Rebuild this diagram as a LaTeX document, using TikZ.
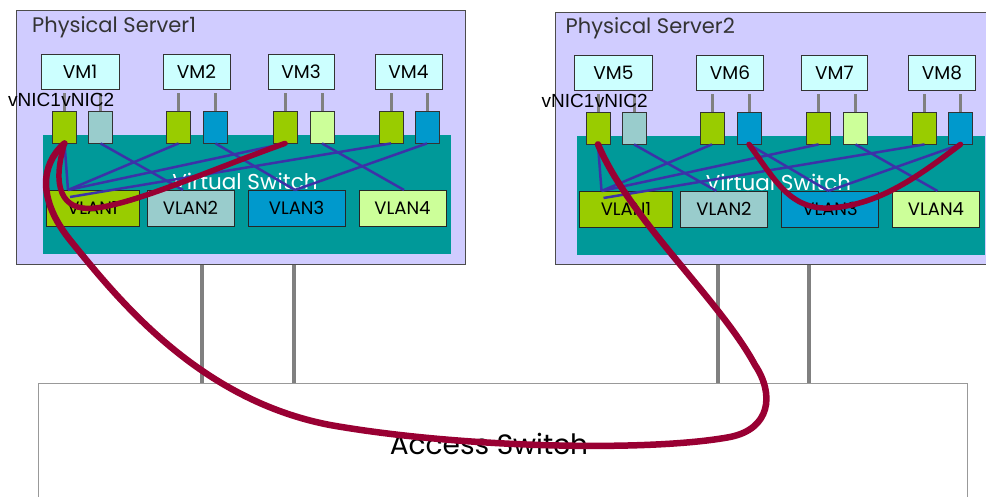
\documentclass[tikz,border=0pt]{standalone}
\usepackage{fontspec}
\setmainfont{Poppins}
\newfontfamily\labelfont{Liberation Sans}
\definecolor{serverbg}{HTML}{D0CCFF}
\definecolor{switchteal}{HTML}{009999}
\definecolor{vmfill}{HTML}{CCFFFF}
\definecolor{vgreen}{HTML}{99CC00}
\definecolor{vgrey}{HTML}{99CCCC}
\definecolor{vblue}{HTML}{0099CC}
\definecolor{vlime}{HTML}{CCFF99}
\definecolor{trunk}{HTML}{3C32A8}
\definecolor{pathred}{HTML}{990033}
\definecolor{stubgrey}{HTML}{808080}
\tikzset{
  server/.style={draw=black!70, fill=serverbg, line width=1pt, inner sep=0pt},
  vswitch/.style={fill=switchteal, inner sep=0pt},
  swlabel/.style={anchor=base, text=white, font=\fontsize{21.5}{21.5}\selectfont},
  title/.style={anchor=base west, text=black!80, font=\fontsize{21}{21}\selectfont, inner sep=0pt},
  vmbox/.style={draw=black!80, fill=vmfill, line width=0.8pt, minimum height=35pt,
    inner sep=0pt, font=\fontsize{18.5}{18.5}\selectfont},
  nic/.style={draw=black!80, line width=0.8pt, minimum width=24pt, minimum height=32pt, inner sep=0pt},
  vlan/.style={draw=black!85, line width=0.8pt, minimum height=36pt, inner sep=0pt,
    font=\fontsize{18}{18}\selectfont},
  niclabel/.style={anchor=base west, inner sep=0pt, font=\labelfont\fontsize{19}{19}\selectfont},
  stubline/.style={stubgrey, line width=3pt},
  uplink/.style={stubgrey, line width=4pt},
  vlanlink/.style={trunk, line width=2.5pt},
  flow/.style={pathred, line width=5.5pt, line cap=round},
  longflow/.style={flow, line width=6.5pt},
}
% one host: #1 name prefix, #2/#3 offset, #4-#7 VM names, #8 title
\newcommand\vhost[8]{%
\begin{scope}[shift={(#2,#3)}]
  \node[title] (#1title) at (32,33) {#8};
  \node[vswitch, anchor=north west, minimum width=408pt, minimum height=119pt] (#1sw) at (43,135) {};
  \node[swlabel] (#1swlabel) at (245,190) {Virtual Switch};
  \node[vmbox, minimum width=78pt] (#1vm1) at (80,71.5) {#4};
  \node[vmbox, minimum width=67pt] (#1vm2) at (196.5,71.5) {#5};
  \node[vmbox, minimum width=66pt] (#1vm3) at (301,71.5) {#6};
  \node[vmbox, minimum width=67pt] (#1vm4) at (408.5,71.5) {#7};
  \node[nic, fill=vgreen] (#1na1) at (64.5,127) {};
  \node[nic, fill=vgrey]  (#1nb1) at (100.5,127) {};
  \node[nic, fill=vgreen] (#1na2) at (178.5,127) {};
  \node[nic, fill=vblue]  (#1nb2) at (215.5,127) {};
  \node[nic, fill=vgreen] (#1na3) at (285,127) {};
  \node[nic, fill=vlime]  (#1nb3) at (322,127) {};
  \node[nic, fill=vgreen] (#1na4) at (391,127) {};
  \node[nic, fill=vblue]  (#1nb4) at (427,127) {};
  \foreach \k in {1,...,4} {
    \draw[stubline] ([yshift=-4pt]#1vm\k.south -| #1na\k) -- (#1na\k.north);
    \draw[stubline] ([yshift=-4pt]#1vm\k.south -| #1nb\k) -- (#1nb\k.north);
  }
  \node[vlan, fill=vgreen, minimum width=93pt] (#1vl1) at (92.5,208) {VLAN1};
  \node[vlan, fill=vgrey,  minimum width=87pt] (#1vl2) at (190.5,208) {VLAN2};
  \node[vlan, fill=vblue,  minimum width=97pt] (#1vl3) at (296.5,208) {VLAN3};
  \node[vlan, fill=vlime,  minimum width=87pt] (#1vl4) at (402.5,208) {VLAN4};
  % VLAN membership of every vNIC
  \coordinate (#1j1) at (68,190);
  \coordinate (#1j1b) at (70,197);
  \coordinate (#1j2) at (183,190);
  \coordinate (#1j3) at (295,190);
  \coordinate (#1j4) at (404,190);
  \draw[vlanlink] (#1na1.south) -- (#1j1);
  \draw[vlanlink] (#1na2.south) -- (#1j1);
  \draw[vlanlink] (#1na3.south) -- (#1j1);
  \draw[vlanlink] (#1na4.south) -- (#1j1b);
  \draw[vlanlink] (#1nb1.south) -- (#1j2);
  \draw[vlanlink] (#1nb2.south) -- (#1j3);
  \draw[vlanlink] (#1nb4.south) -- (#1j3);
  \draw[vlanlink] (#1nb3.south) -- (#1j4);
  \node[niclabel] (#1lbla) at (8,107) {vNIC1};
  \node[niclabel] (#1lblb) at (#1lbla.base east) {vNIC2};
\end{scope}}

\begin{document}
\begin{tikzpicture}[x=1pt, y=-1pt]
  \useasboundingbox[fill=white] (0,0) rectangle (986,497);
  \node[server, anchor=north west, minimum width=449pt, minimum height=254pt] (s1box) at (16,10) {};
  \node[server, anchor=north west, minimum width=460pt, minimum height=252pt] (s2box) at (555,12) {};
  \node[draw=black!40, fill=white, line width=1pt, anchor=north west, minimum width=929pt,
        minimum height=130pt, inner sep=0pt] (access) at (38,383) {};
  \node[font=\fontsize{28}{28}\selectfont, anchor=base] (accesslabel) at (489,454) {Access Switch};
  % uplinks from the hosts to the access switch
  \foreach \x [count=\i] in {202,294} {
    \coordinate (ua\i) at (\x,0);
    \draw[uplink] (s1box.south -| ua\i) -- (access.north -| ua\i);
  }
  \foreach \x [count=\i] in {718,809} {
    \coordinate (ub\i) at (\x,0);
    \draw[uplink] (s2box.south -| ub\i) -- (access.north -| ub\i);
  }
  \vhost{s1}{0}{0}{VM1}{VM2}{VM3}{VM4}{Physical Server1}
  \vhost{s2}{533.5}{1}{VM5}{VM6}{VM7}{VM8}{Physical Server2}
  % traffic paths
  \draw[flow] (s1na1.south) .. controls (52,185) and (60,212) .. (95,208)
              .. controls (135,204) and (210,170) .. (s1na3.south);
  \draw[longflow] (s1na1.south) .. controls (40,165) and (38,200) .. (70,240)
              .. controls (120,302) and (200,400) .. (330,425)
              .. controls (460,448) and (650,452) .. (730,437)
              .. controls (770,429) and (775,395) .. (755,365)
              .. controls (720,300) and (630,220) .. (s2na1.south);
  \draw[flow] (s2nb2.south) .. controls (775,180) and (790,210) .. (830,208)
              .. controls (880,205) and (920,175) .. (s2nb4.south);
\end{tikzpicture}
\end{document}
